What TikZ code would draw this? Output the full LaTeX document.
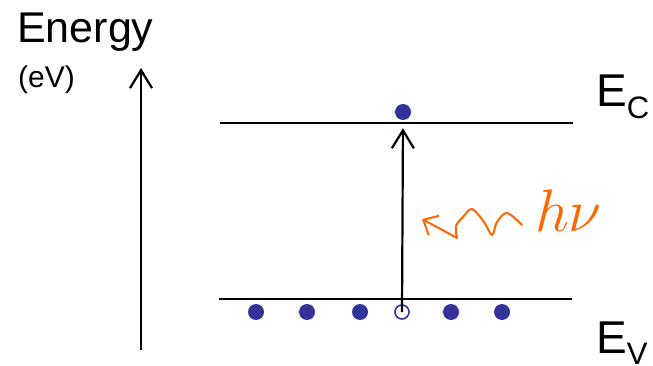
\RequirePackage{fix-cm}
\documentclass[tikz,border=0pt]{standalone}
\usepackage{fontspec}
\setmainfont{Liberation Sans}
\usetikzlibrary{arrows.meta}
\definecolor{dotblue}{RGB}{51,51,153}
\definecolor{photonorange}{RGB}{255,102,0}
\tikzset{
  level/.style={line width=2pt},
  uparrow/.style={line width=2.2pt, -{Straight Barb[length=18pt,width=22pt,line width=2.2pt]}},
  electron/.style={circle, fill=dotblue, inner sep=0pt, minimum size=16pt},
  hole/.style={circle, draw=dotblue, line width=1.6pt, fill=white, inner sep=0pt, minimum size=14pt},
  photon/.style={photonorange, line width=2pt, line cap=round, line join=round,
    -{Straight Barb[length=12pt,width=22pt,line width=2pt]}}
}
\begin{document}
\begin{tikzpicture}[x=1pt,y=-1pt]
  % 1 unit = 1 pixel of the 653 x 366 frame
  \useasboundingbox (0,0) rectangle (653,366);
  \def\yc{123}
  \def\yv{299}
  \def\ydot{312}

  % energy axis
  \node[anchor=base west, inner sep=0pt, font=\fontsize{43}{43}\selectfont] (energy) at (17,43) {Energy};
  \node[anchor=base west, inner sep=0pt, font=\fontsize{30}{30}\selectfont] (ev) at (18,88) {(eV)};
  \coordinate (axbot) at (141,350);
  \coordinate (axtop) at (141,68);
  \draw[uparrow] (axbot) -- (axtop);

  % band edges
  \coordinate (ecl) at (220,\yc);
  \coordinate (ecr) at (573,\yc);
  \coordinate (evl) at (219,\yv);
  \coordinate (evr) at (572,\yv);
  \draw[level] (ecl) -- (ecr);
  \draw[level] (evl) -- (evr);
  \node[anchor=base west, inner sep=0pt, font=\fontsize{46}{46}\selectfont] (ec) at (596,107)
    {E\raisebox{-12pt}{\fontsize{31}{31}\selectfont C}};
  \node[anchor=base west, inner sep=0pt, font=\fontsize{46}{46}\selectfont] (evlab) at (596,353)
    {E\raisebox{-11pt}{\fontsize{31}{31}\selectfont V}};

  % electrons and hole
  \node[electron] (elec) at (403,112) {};
  \foreach \x/\n in {256/d1, 307/d2, 360/d3, 451/d5, 502/d6}
    \node[electron] (\n) at (\x,\ydot) {};
  \node[hole] (holeb) at (402,\ydot) {};

  % excitation
  \draw[uparrow, shorten >=8pt] (holeb.center) -- (elec.south);

  % incoming photon
  \coordinate (ph0) at (522,225);
  \coordinate (phtip) at (422,219);
  \draw[photon] (ph0) plot[smooth, tension=0.55] coordinates
    {(522,225) (507,213) (497,222) (492,235) (484,222) (472,209) (463,217) (456,226) (457,238)}
    -- (phtip);
  \node[anchor=base west, inner sep=0pt, text=photonorange, font=\fontsize{60}{60}\selectfont] (hnu) at (535,232) {$h\nu$};
\end{tikzpicture}
\end{document}
